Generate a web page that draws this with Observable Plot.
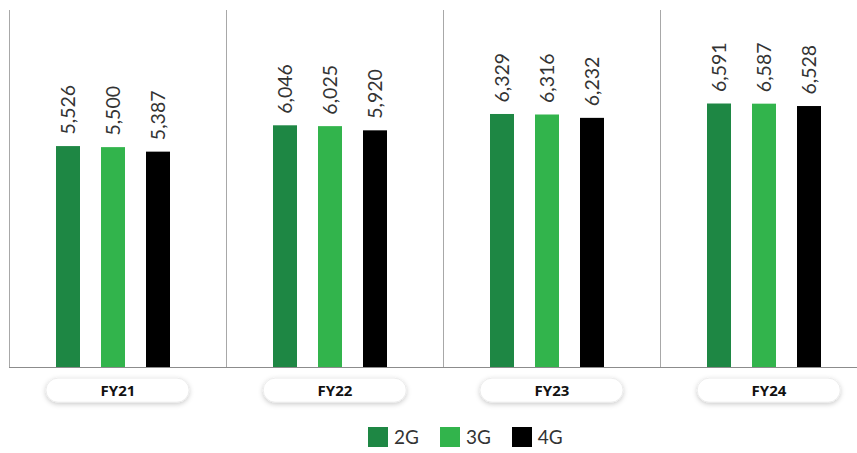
<!DOCTYPE html>
<html>
<head>
<meta charset="utf-8">
<script src="https://cdn.jsdelivr.net/npm/d3@7"></script>
<script src="https://cdn.jsdelivr.net/npm/@observablehq/plot@0.6"></script>
<style>
  html, body { margin: 0; padding: 0; background: #fff; }
  #chart { width: 857px; }
  .legend { display: flex; align-items: center; height: 33px; padding-left: 368px; font-family: Lato, "Noto Sans", sans-serif; font-size: 19px; color: #333; }
  .legend .item { display: flex; align-items: center; margin-right: 21px; }
  .legend .sw { width: 20px; height: 20px; margin-right: 6px; }
</style>
</head>
<body>
<div id="chart"></div>
<script>
// Subscribers by network generation per fiscal year
const years = ["FY21", "FY22", "FY23", "FY24"];
const techs = ["2G", "3G", "4G"];
const values2G = [5526, 6046, 6329, 6591];
const values3G = [5500, 6025, 6316, 6587];
const values4G = [5387, 5920, 6232, 6528];
const techColors = ["#1e8744", "#32b44c", "#000000"];

const series = [values2G, values3G, values4G];
const rows = years.flatMap((year, i) =>
  techs.map((tech, j) => ({year, tech, value: series[j][i]}))
);

const fmt = d3.format(",");

const plot = Plot.plot({
  width: 857,
  height: 420,
  marginTop: 10,
  marginBottom: 53,
  marginLeft: 9,
  marginRight: 0,
  fx: {domain: years, range: [9, 877], padding: 0},
  x: {domain: techs, paddingInner: 0.4565, paddingOuter: 0.2283, insetLeft: 35, insetRight: 44, axis: null},
  y: {domain: [0, 8930], axis: null},
  color: {domain: techs, range: techColors},
  marks: [
    Plot.frame({anchor: "left", stroke: "#a8a8a8", strokeOpacity: 1}),
    Plot.ruleY([0], {stroke: "#8c8c8c"}),
    Plot.barY(rows, {fx: "year", x: "tech", y: "value", fill: "tech"}),
    Plot.text(rows, {
      fx: "year", x: "tech", y: "value",
      text: d => fmt(d.value),
      rotate: -90, textAnchor: "start", dy: -12,
      fontSize: 19.5, fontWeight: 400, fill: "#333",
      fontFamily: "Lato, 'Noto Sans', sans-serif"
    }),
    Plot.axisFx({anchor: "bottom", label: null, tickSize: 0, tickPadding: 18,
      fontSize: 15, fontWeight: "bold", fill: "#111",
      fontFamily: "'Noto Sans', Lato, sans-serif"})
  ]
});

document.getElementById("chart").appendChild(plot);

// Rounded label pills behind each fiscal-year label
const svg = d3.select(plot);
const defs = svg.insert("defs", ":first-child");
const filter = defs.append("filter").attr("id", "pill-shadow")
  .attr("x", "-20%").attr("y", "-60%").attr("width", "140%").attr("height", "220%");
filter.append("feDropShadow").attr("dx", 0).attr("dy", 1.5).attr("stdDeviation", 2.5)
  .attr("flood-color", "#000").attr("flood-opacity", 0.22);

const svgBox = plot.getBoundingClientRect();
const pills = svg.insert("g", "g").attr("class", "pills");
svg.selectAll('g[aria-label="fx-axis tick label"] text').each(function () {
  const b = this.getBoundingClientRect();
  const cx = b.left + b.width / 2 - svgBox.left;
  const cy = b.top + b.height / 2 - svgBox.top;
  pills.append("rect")
    .attr("x", cx - 72).attr("y", cy - 12)
    .attr("width", 143).attr("height", 24).attr("rx", 12)
    .attr("fill", "#fff").attr("stroke", "#e2e2e2").attr("stroke-width", 0.6)
    .attr("filter", "url(#pill-shadow)");
});

// Legend
const legend = d3.select("body").append("div").attr("class", "legend");
techs.forEach((t, i) => {
  const item = legend.append("div").attr("class", "item");
  item.append("div").attr("class", "sw").style("background", techColors[i]);
  item.append("span").text(t);
});
</script>
</body>
</html>
